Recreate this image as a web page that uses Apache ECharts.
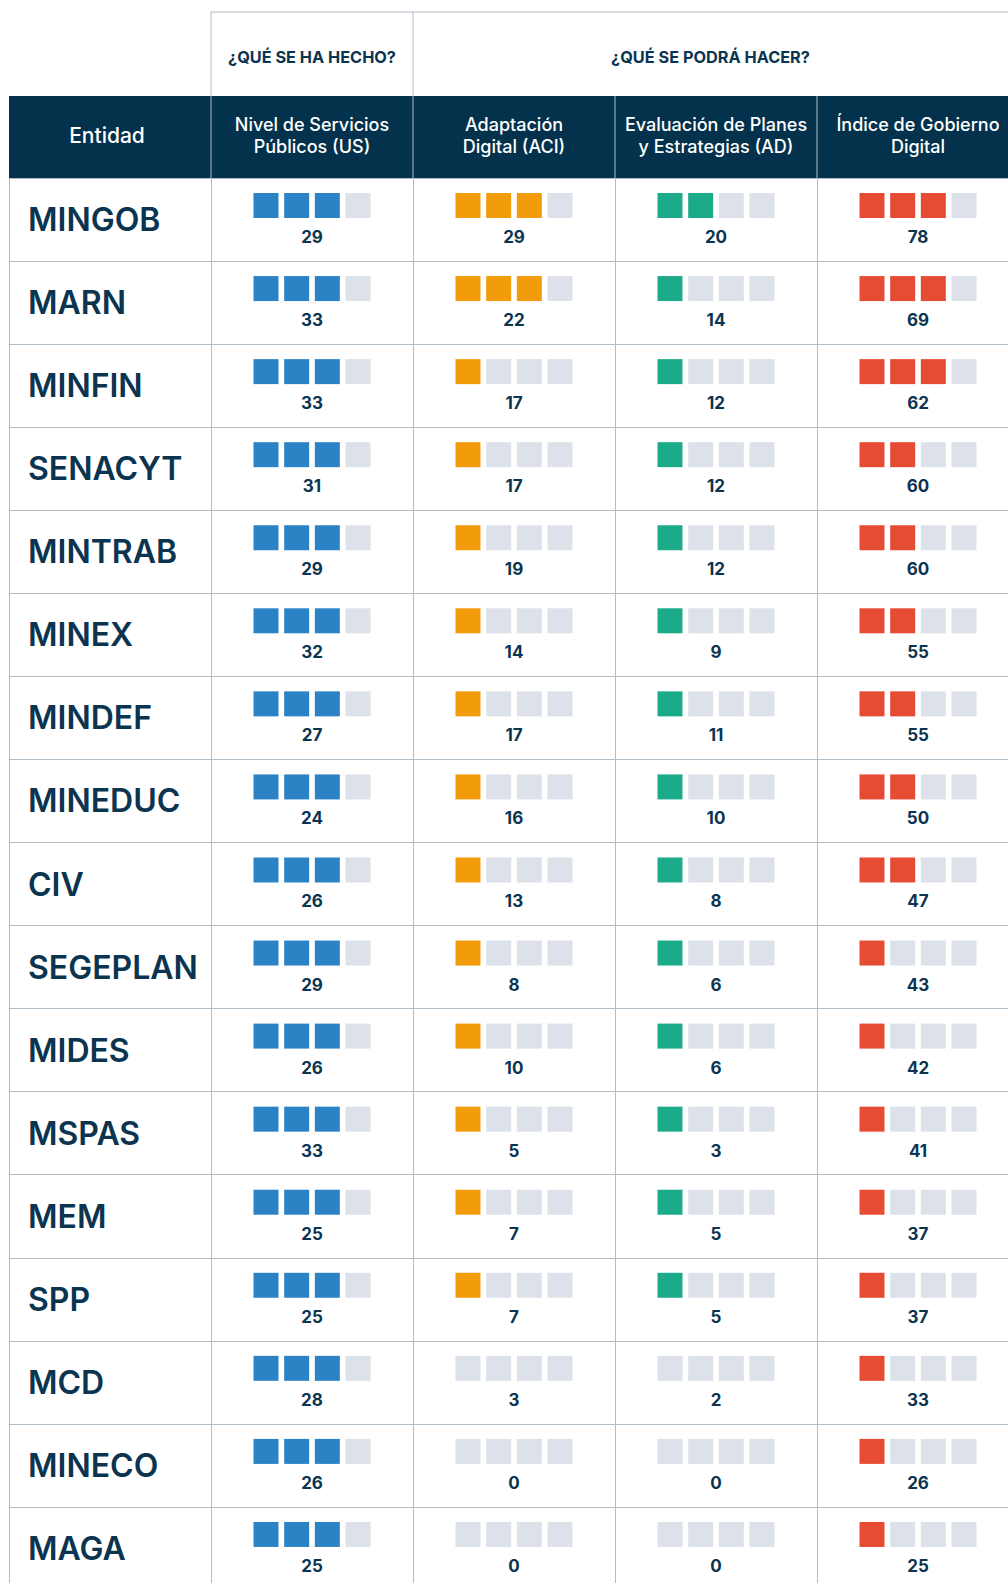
<!DOCTYPE html>
<html>
<head>
<meta charset="utf-8">
<script src="https://cdn.jsdelivr.net/npm/echarts@6/dist/echarts.min.js"></script>
<style>
  html, body { margin: 0; padding: 0; background: #ffffff; }
  #chart { width: 1008px; height: 1583px; }
</style>
</head>
<body>
<div id="chart"></div>
<script>
// ---------------- DATA ----------------
const columns = [
  'Entidad',
  'Nivel de Servicios\nPúblicos (US)',
  'Adaptación\nDigital (ACI)',
  'Evaluación de Planes\ny Estrategias (AD)',
  'Índice de Gobierno\nDigital'
];
const groupHeaders = ['¿QUÉ SE HA HECHO?', '¿QUÉ SE PODRÁ HACER?'];
const entities = ['MINGOB','MARN','MINFIN','SENACYT','MINTRAB','MINEX','MINDEF','MINEDUC','CIV','SEGEPLAN','MIDES','MSPAS','MEM','SPP','MCD','MINECO','MAGA'];

const usValues  = [29,33,33,31,29,32,27,24,26,29,26,33,25,25,28,26,25];
const usLevels  = [3,3,3,3,3,3,3,3,3,3,3,3,3,3,3,3,3];
const aciValues = [29,22,17,17,19,14,17,16,13,8,10,5,7,7,3,0,0];
const aciLevels = [3,3,1,1,1,1,1,1,1,1,1,1,1,1,0,0,0];
const adValues  = [20,14,12,12,12,9,11,10,8,6,6,3,5,5,2,0,0];
const adLevels  = [2,1,1,1,1,1,1,1,1,1,1,1,1,1,0,0,0];
const igdValues = [78,69,62,60,60,55,55,50,47,43,42,41,37,37,33,26,25];
const igdLevels = [3,3,3,2,2,2,2,2,2,1,1,1,1,1,1,1,1];

// ---------------- STYLE / LAYOUT ----------------
const NAVY = '#0b3450';
const HEADER_BG = '#04324c';
const LINE = '#b0bcc8';
const EMPTY = '#dde1ea';
const COLORS = ['#2b83c6', '#f29c0b', '#1bab8a', '#e64c33'];
const FONT = 'Inter, "Noto Sans", sans-serif';

const L = { left: 9, top: 178, colW: 202, rowH: 83.06, headTop: 96, groupTop: 12 };
const SQ = 25, PITCH = 30.67;

const metricSets = [
  [usValues, usLevels],
  [aciValues, aciLevels],
  [adValues, adLevels],
  [igdValues, igdLevels]
];
const seriesData = [];
metricSets.forEach(([vals, lvls], j) => {
  vals.forEach((v, i) => seriesData.push([j + 1, i, v, lvls[i]]));
});

const colX = k => L.left + L.colW * k;
const W = 1008;

const graphic = [
  { type: 'rect', z: -10, shape: { x: L.left, y: L.headTop, width: W - L.left, height: L.top - L.headTop }, style: { fill: HEADER_BG } },
  { type: 'line', z: 5, shape: { x1: colX(1), y1: L.groupTop, x2: W, y2: L.groupTop }, style: { stroke: LINE, lineWidth: 1 } },
  { type: 'line', z: 5, shape: { x1: colX(1), y1: L.groupTop, x2: colX(1), y2: L.top }, style: { stroke: LINE, lineWidth: 1 } },
  { type: 'line', z: 5, shape: { x1: colX(2), y1: L.groupTop, x2: colX(2), y2: L.top }, style: { stroke: LINE, lineWidth: 1 } },
  { type: 'line', z: 5, shape: { x1: colX(3), y1: L.headTop, x2: colX(3), y2: L.top }, style: { stroke: LINE, lineWidth: 1 } },
  { type: 'line', z: 5, shape: { x1: colX(4), y1: L.headTop, x2: colX(4), y2: L.top }, style: { stroke: LINE, lineWidth: 1 } },
  { type: 'text', z: 5, style: { text: groupHeaders[0], x: (colX(1) + colX(2)) / 2, y: 57, align: 'center', verticalAlign: 'middle', font: '700 16.3px ' + FONT, fill: NAVY } },
  { type: 'text', z: 5, style: { text: groupHeaders[1], x: (colX(2) + W) / 2, y: 57, align: 'center', verticalAlign: 'middle', font: '700 16.3px ' + FONT, fill: NAVY } }
];

const chart = echarts.init(document.getElementById('chart'), null, { renderer: 'svg', width: 1008, height: 1583 });
chart.setOption({
  animation: false,
  backgroundColor: '#ffffff',
  graphic: graphic,
  grid: {
    left: L.left, top: L.top,
    width: L.colW * columns.length, height: L.rowH * entities.length,
    containLabel: false,
    outerBoundsMode: 'none'
  },
  xAxis: {
    type: 'category',
    position: 'top',
    data: columns,
    boundaryGap: true,
    axisLine: { show: false },
    axisTick: { show: false },
    axisLabel: {
      interval: 0,
      color: '#ffffff',
      fontFamily: FONT,
      fontSize: 18,
      fontWeight: 500,
      lineHeight: 22,
      verticalAlign: 'middle',
      margin: 43,
      formatter: function (v, i) { return i === 0 ? '{first|' + v + '}' : v; },
      rich: {
        first: { color: '#ffffff', fontFamily: FONT, fontSize: 21, fontWeight: 500, lineHeight: 24, padding: [0, 6, 0, 0] }
      }
    },
    splitLine: { show: true, interval: 0, lineStyle: { color: LINE, width: 1 } }
  },
  yAxis: {
    type: 'category',
    inverse: true,
    data: entities,
    boundaryGap: true,
    axisLine: { show: false },
    axisTick: { show: false },
    axisLabel: {
      inside: true,
      interval: 0,
      margin: 19,
      color: NAVY,
      fontFamily: FONT,
      fontSize: 32,
      fontWeight: 600
    },
    splitLine: { show: true, interval: 0, lineStyle: { color: LINE, width: 1 } }
  },
  series: [{
    type: 'custom',
    data: seriesData,
    encode: { x: 0, y: 1 },
    clip: false,
    renderItem: function (params, api) {
      const col = api.value(0), row = api.value(1), val = api.value(2), lvl = api.value(3);
      const c = api.coord([col, row]);
      const bandH = api.size([0, 1])[1];
      const top = c[1] - bandH / 2;
      const color = COLORS[col - 1];
      const children = [];
      for (let k = 0; k < 4; k++) {
        children.push({
          type: 'rect',
          shape: { x: c[0] + (k - 1.5) * PITCH - SQ / 2, y: top + 15, width: SQ, height: SQ },
          style: { fill: k < lvl ? color : EMPTY }
        });
      }
      children.push({
        type: 'text',
        style: { text: String(val), x: c[0], y: top + 59, align: 'center', verticalAlign: 'middle', font: '700 17px ' + FONT, fill: NAVY }
      });
      return { type: 'group', children: children };
    }
  }]
});
</script>
</body>
</html>
